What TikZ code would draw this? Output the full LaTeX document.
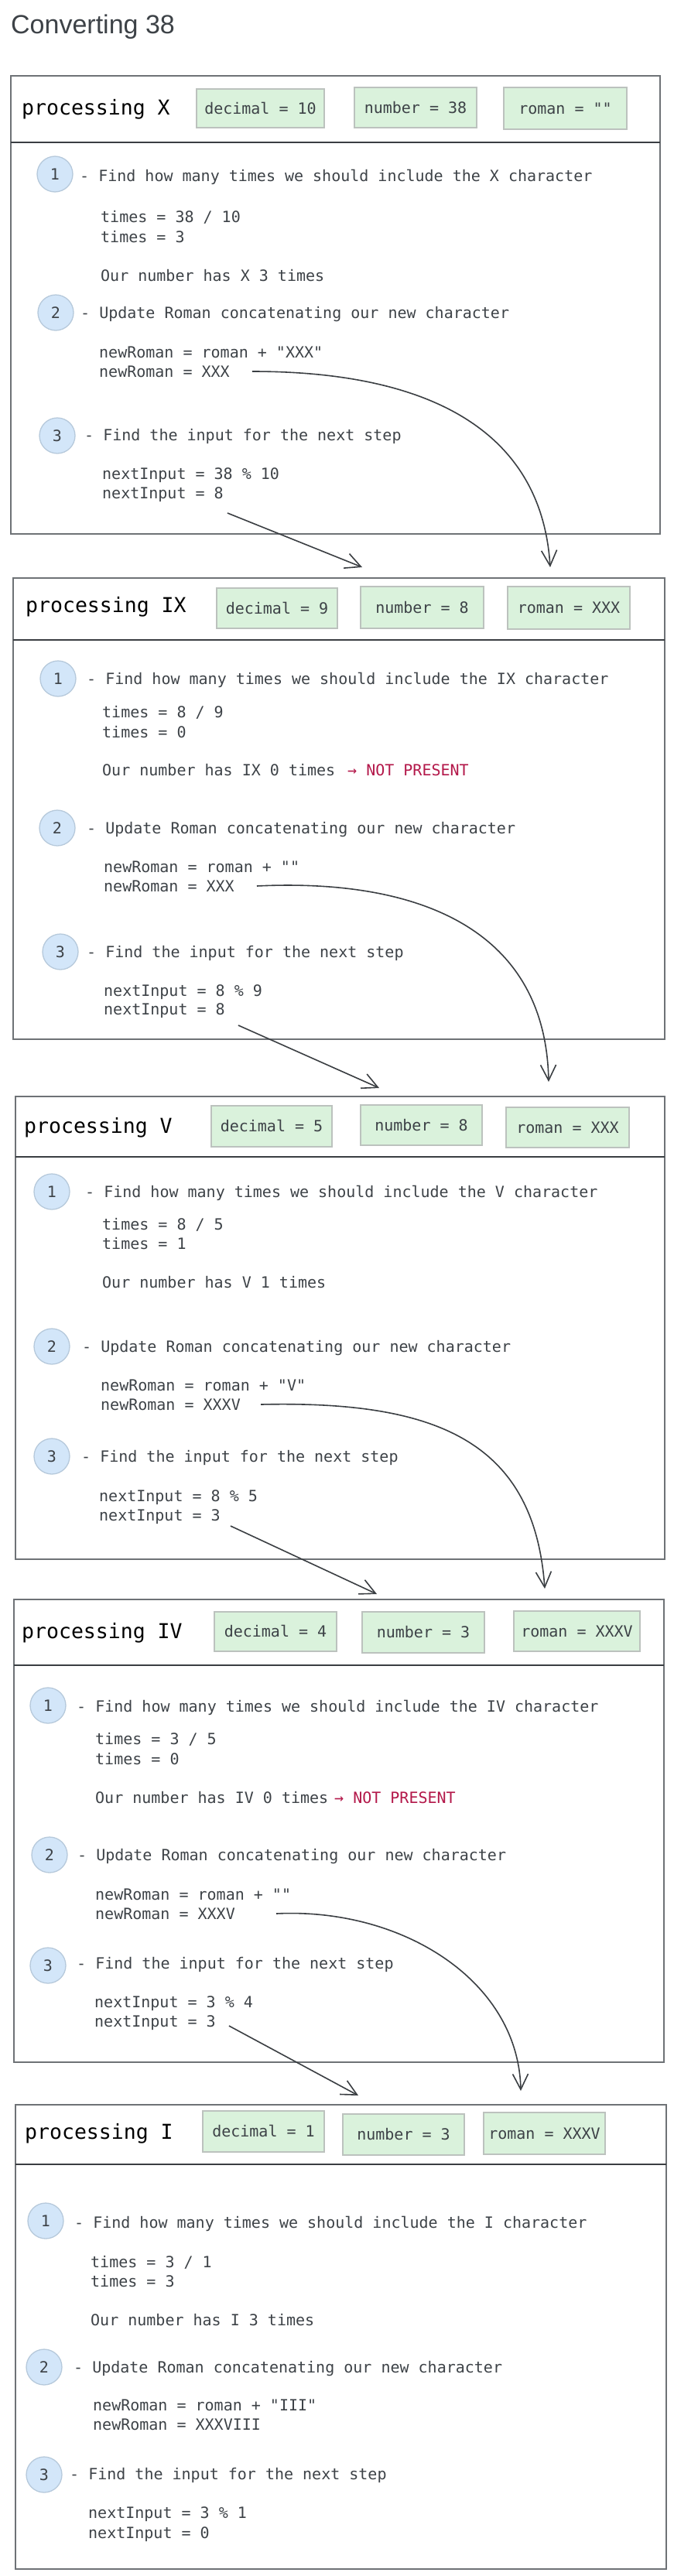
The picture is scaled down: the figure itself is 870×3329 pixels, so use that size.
\documentclass[tikz,border=0pt]{standalone}
\usepackage{fontspec}
\setmonofont{DejaVu Sans Mono}
\newfontfamily\titlefont{Liberation Sans}
\usetikzlibrary{arrows.meta}

\definecolor{panelgray}{HTML}{6E7276}
\definecolor{divgray}{HTML}{3A3E42}
\definecolor{inkgray}{HTML}{3D4247}
\definecolor{varfill}{HTML}{DAF2DC}
\definecolor{boxgray}{HTML}{BCC2BE}
\definecolor{numfill}{HTML}{D3E6F9}
\definecolor{numedge}{HTML}{B6C9DB}
\definecolor{arrowgray}{HTML}{3A3E42}
\definecolor{crimson}{HTML}{B3184A}

\tikzset{
  panel/.style={draw=panelgray,line width=1.6pt},
  divider/.style={draw=divgray,line width=2.4pt},
  codetxt/.style={anchor=west,inner sep=0pt,text=inkgray,
    font=\ttfamily\fontsize{20}{24}\selectfont,text height=14.6pt,text depth=0pt},
  absent/.style={codetxt,text=crimson},
  headtxt/.style={anchor=west,inner sep=0pt,text=black,
    font=\ttfamily\fontsize{26.5}{30}\selectfont,text height=19.3pt,text depth=0pt},
  titletxt/.style={anchor=west,inner sep=0pt,text=inkgray,
    font=\titlefont\fontsize{34}{40}\selectfont,text height=24.3pt,text depth=0pt},
  varbox/.style={codetxt,anchor=center,draw=boxgray,fill=varfill,line width=1.3pt},
  stepnum/.style={codetxt,anchor=center,circle,draw=numedge,fill=numfill,
    line width=1.3pt,minimum size=46pt},
  flow/.style={draw=arrowgray,line width=1.6pt,-{Straight Barb[length=20pt,width=20pt]}}
}

\begin{document}
\begin{tikzpicture}[x=1pt,y=-1pt]
\useasboundingbox (0,0) rectangle (870,3329);
\node(title) at (14,31)[titletxt] {Converting 38};

% processing X
\draw[panel] (14,98) rectangle (853,690);
\draw[divider] (14,184) -- (853,184);
\node(h1) at (28,139)[headtxt] {processing X};
\node(d1) at (336.5,140)[varbox,minimum width=165pt,minimum height=50pt] {decimal = 10};
\node(n1) at (537,139)[varbox,minimum width=158pt,minimum height=52pt] {number = 38};
\node(r1) at (730.5,140)[varbox,minimum width=159pt,minimum height=54pt] {roman = ""};
\node(c1a) at (71,225)[stepnum] {1};
\node(s1a) at (103,227)[codetxt] {- Find how many times we should include the X character};
\node(t1a) at (130,280)[codetxt] {times = 38 / 10};
\node(t1b) at (130,306)[codetxt] {times = 3};
\node(t1c) at (130,356)[codetxt] {Our number has X 3 times};
\node(c1b) at (72,404)[stepnum] {2};
\node(s1b) at (104,404)[codetxt] {- Update Roman concatenating our new character};
\node(t1d) at (128,455)[codetxt] {newRoman = roman + "XXX"};
\node(t1e) at (128,480)[codetxt] {newRoman = XXX};
\node(c1c) at (74,563)[stepnum] {3};
\node(s1c) at (109,562)[codetxt] {- Find the input for the next step};
\node(t1f) at (132,612)[codetxt] {nextInput = 38 \% 10};
\node(t1g) at (132,637)[codetxt] {nextInput = 8};

% processing IX
\draw[panel] (17,747) rectangle (859,1343);
\draw[divider] (17,827) -- (859,827);
\node(h2) at (33,782)[headtxt] {processing IX};
\node(d2) at (358,786)[varbox,minimum width=156pt,minimum height=52pt] {decimal = 9};
\node(n2) at (545.5,785)[varbox,minimum width=159pt,minimum height=54pt] {number = 8};
\node(r2) at (735,785.5)[varbox,minimum width=158pt,minimum height=55pt] {roman = XXX};
\node(c2a) at (75,877)[stepnum] {1};
\node(s2a) at (112,877)[codetxt] {- Find how many times we should include the IX character};
\node(t2a) at (132,920)[codetxt] {times = 8 / 9};
\node(t2b) at (132,946)[codetxt] {times = 0};
\node(t2c) at (132,995)[codetxt] {Our number has IX 0 times};
\node(np2) at (449,995)[absent] {→ NOT PRESENT};
\node(c2b) at (74,1070)[stepnum] {2};
\node(s2b) at (112,1070)[codetxt] {- Update Roman concatenating our new character};
\node(t2d) at (134,1120)[codetxt] {newRoman = roman + ""};
\node(t2e) at (134,1145)[codetxt] {newRoman = XXX};
\node(c2c) at (78,1230)[stepnum] {3};
\node(s2c) at (112,1230)[codetxt] {- Find the input for the next step};
\node(t2f) at (134,1280)[codetxt] {nextInput = 8 \% 9};
\node(t2g) at (134,1304)[codetxt] {nextInput = 8};

% processing V
\draw[panel] (20,1417) rectangle (859,2015);
\draw[divider] (20,1495) -- (859,1495);
\node(h3) at (31,1455)[headtxt] {processing V};
\node(d3) at (351,1455.5)[varbox,minimum width=156pt,minimum height=53pt] {decimal = 5};
\node(n3) at (544.5,1454)[varbox,minimum width=157pt,minimum height=52pt] {number = 8};
\node(r3) at (733.5,1457)[varbox,minimum width=159pt,minimum height=52pt] {roman = XXX};
\node(c3a) at (67,1540)[stepnum] {1};
\node(s3a) at (110,1540)[codetxt] {- Find how many times we should include the V character};
\node(t3a) at (132,1582)[codetxt] {times = 8 / 5};
\node(t3b) at (132,1607)[codetxt] {times = 1};
\node(t3c) at (132,1657)[codetxt] {Our number has V 1 times};
\node(c3b) at (67,1740)[stepnum] {2};
\node(s3b) at (106,1740)[codetxt] {- Update Roman concatenating our new character};
\node(t3d) at (130,1790)[codetxt] {newRoman = roman + "V"};
\node(t3e) at (130,1815)[codetxt] {newRoman = XXXV};
\node(c3c) at (67,1882)[stepnum] {3};
\node(s3c) at (105,1882)[codetxt] {- Find the input for the next step};
\node(t3f) at (128,1933)[codetxt] {nextInput = 8 \% 5};
\node(t3g) at (128,1958)[codetxt] {nextInput = 3};

% processing IV
\draw[panel] (18,2067) rectangle (858,2665);
\draw[divider] (18,2152) -- (858,2152);
\node(h4) at (28,2108)[headtxt] {processing IV};
\node(d4) at (356,2108.5)[varbox,minimum width=158pt,minimum height=51pt] {decimal = 4};
\node(n4) at (547,2109.5)[varbox,minimum width=158pt,minimum height=53pt] {number = 3};
\node(r4) at (745.5,2108)[varbox,minimum width=163pt,minimum height=52pt] {roman = XXXV};
\node(c4a) at (62,2204)[stepnum] {1};
\node(s4a) at (99,2205)[codetxt] {- Find how many times we should include the IV character};
\node(t4a) at (123,2247)[codetxt] {times = 3 / 5};
\node(t4b) at (123,2273)[codetxt] {times = 0};
\node(t4c) at (123,2323)[codetxt] {Our number has IV 0 times};
\node(np4) at (432,2323)[absent] {→ NOT PRESENT};
\node(c4b) at (64,2397)[stepnum] {2};
\node(s4b) at (100,2397)[codetxt] {- Update Roman concatenating our new character};
\node(t4d) at (123,2448)[codetxt] {newRoman = roman + ""};
\node(t4e) at (123,2473)[codetxt] {newRoman = XXXV};
\node(c4c) at (62,2540)[stepnum] {3};
\node(s4c) at (99,2537)[codetxt] {- Find the input for the next step};
\node(t4f) at (122,2587)[codetxt] {nextInput = 3 \% 4};
\node(t4g) at (122,2612)[codetxt] {nextInput = 3};

% processing I
\draw[panel] (20,2720) rectangle (861,3320);
\draw[divider] (20,2797) -- (861,2797);
\node(h5) at (32,2755)[headtxt] {processing I};
\node(d5) at (340.5,2754.5)[varbox,minimum width=157pt,minimum height=53pt] {decimal = 1};
\node(n5) at (521.5,2758.5)[varbox,minimum width=157pt,minimum height=53pt] {number = 3};
\node(r5) at (703.5,2757)[varbox,minimum width=157pt,minimum height=54pt] {roman = XXXV};
\node(c5a) at (59,2870)[stepnum] {1};
\node(s5a) at (96,2872)[codetxt] {- Find how many times we should include the I character};
\node(t5a) at (117,2923)[codetxt] {times = 3 / 1};
\node(t5b) at (117,2948)[codetxt] {times = 3};
\node(t5c) at (117,2998)[codetxt] {Our number has I 3 times};
\node(c5b) at (57,3059)[stepnum] {2};
\node(s5b) at (95,3059)[codetxt] {- Update Roman concatenating our new character};
\node(t5d) at (120,3108)[codetxt] {newRoman = roman + "III"};
\node(t5e) at (120,3133)[codetxt] {newRoman = XXXVIII};
\node(c5c) at (57,3198)[stepnum] {3};
\node(s5c) at (90,3197)[codetxt] {- Find the input for the next step};
\node(t5f) at (114,3247)[codetxt] {nextInput = 3 \% 1};
\node(t5g) at (114,3273)[codetxt] {nextInput = 0};

% hand-over arrows
\coordinate(in2n) at (468,733);
\coordinate(in2r) at (711,733);
\coordinate(in3n) at (490,1406);
\coordinate(in3r) at (709,1398);
\coordinate(in4n) at (487,2060);
\coordinate(in4r) at (704,2053);
\coordinate(in5n) at (463,2708);
\coordinate(in5r) at (673,2702);

\draw[flow] ([xshift=5pt,yshift=-26pt]t1g.east) -- (in2n);
\draw[flow] ([xshift=29pt]t1e.east) .. controls (560,480) and (700,560) .. (in2r);
\draw[flow] ([xshift=17pt,yshift=-21pt]t2g.east) -- (in3n);
\draw[flow] ([xshift=29pt]t2e.east) .. controls (540,1135) and (705,1200) .. (in3r);
\draw[flow] ([xshift=13pt,yshift=-14pt]t3g.east) -- (in4n);
\draw[flow] ([xshift=26pt]t3e.east) .. controls (560,1810) and (690,1860) .. (in4r);
\draw[flow] ([xshift=17pt,yshift=-6pt]t4g.east) -- (in5n);
\draw[flow] ([xshift=53pt]t4e.east) .. controls (520,2465) and (670,2560) .. (in5r);
\end{tikzpicture}
\end{document}
